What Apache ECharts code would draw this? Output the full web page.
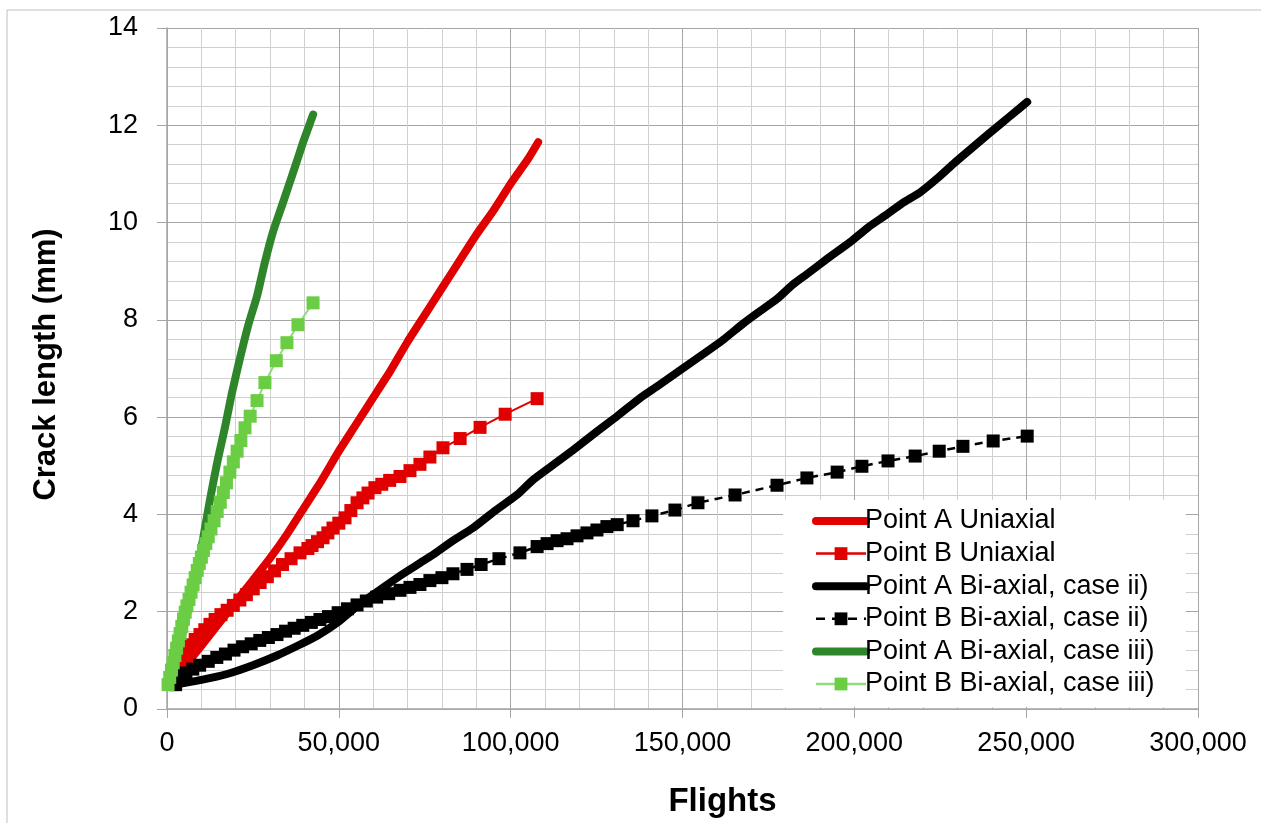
<!DOCTYPE html>
<html>
<head>
<meta charset="utf-8">
<script src="https://cdn.jsdelivr.net/npm/echarts@6.0.0/dist/echarts.min.js"></script>
<style>
  html, body { margin: 0; padding: 0; background: #fff; }
  #chart { width: 1261px; height: 823px; }
</style>
</head>
<body>
<div id="chart"></div>
<script>
// [flights, crack length mm]
const pointAUniaxial = [
  [2500, 0.55], [5000, 0.85], [10000, 1.3], [15000, 1.75], [20000, 2.2], [25000, 2.65],
  [30000, 3.1], [35000, 3.6], [40000, 4.15], [45000, 4.7], [50000, 5.3], [55000, 5.85],
  [60000, 6.4], [65000, 6.95], [70000, 7.55], [75000, 8.1], [80000, 8.65], [85000, 9.2],
  [90000, 9.75], [95000, 10.25], [100000, 10.8], [105000, 11.3], [108000, 11.65]
]
const pointBUniaxial = [
  [2500, 0.55], [3000, 0.7], [3800, 0.9], [4800, 1.05], [5800, 1.2], [7000, 1.32], [8200, 1.43],
  [9600, 1.53], [11000, 1.63], [12500, 1.74], [14000, 1.84], [15700, 1.94], [17500, 2.03],
  [19300, 2.13], [21200, 2.24], [23100, 2.35], [25100, 2.47], [27100, 2.6], [29200, 2.72],
  [31300, 2.84], [33600, 2.97], [36100, 3.09], [38700, 3.21], [41000, 3.3], [42200, 3.36],
  [43800, 3.44], [45400, 3.52], [46800, 3.62], [48300, 3.72], [50000, 3.82], [51800, 3.93],
  [53500, 4.08], [55300, 4.24], [57000, 4.34], [58500, 4.44], [60500, 4.55], [62500, 4.62],
  [64800, 4.7], [67800, 4.78], [70700, 4.9], [73600, 5.03], [76500, 5.18], [80300, 5.37],
  [85300, 5.56], [91100, 5.79], [98400, 6.06], [107700, 6.38]
]
const pointABiaxialII = [
  [2000, 0.5], [10000, 0.6], [17500, 0.72], [25000, 0.9], [32000, 1.1], [38000, 1.3],
  [43600, 1.5], [50000, 1.8], [56000, 2.15], [62000, 2.45], [67800, 2.74], [73600, 3.0],
  [77400, 3.17], [83000, 3.45], [89000, 3.72], [95000, 4.05], [101800, 4.4], [106500, 4.71],
  [112000, 5.0], [118100, 5.32], [125000, 5.7], [131000, 6.02], [137600, 6.39], [143000, 6.65],
  [149000, 6.95], [157100, 7.35], [162000, 7.6], [167600, 7.92], [172000, 8.15], [177500, 8.43],
  [182000, 8.72], [186200, 8.94], [192000, 9.25], [198800, 9.6], [204000, 9.9], [209500, 10.17],
  [214000, 10.4], [219100, 10.62], [224000, 10.9], [228700, 11.2], [234000, 11.52],
  [239500, 11.85], [245000, 12.17], [250300, 12.48]
]
const pointBBiaxialII = [
  [2500, 0.5], [3000, 0.6], [4000, 0.68], [5500, 0.74], [7500, 0.82], [9500, 0.9], [12000, 0.98],
  [14500, 1.06], [17000, 1.13], [19500, 1.21], [22000, 1.28], [24500, 1.34], [27000, 1.41],
  [29500, 1.47], [32000, 1.53], [34500, 1.6], [37000, 1.66], [39500, 1.72], [42000, 1.78],
  [44500, 1.84], [47000, 1.9], [49800, 1.98], [52500, 2.06], [55300, 2.14], [58000, 2.22],
  [61000, 2.3], [64500, 2.37], [67800, 2.44], [70700, 2.5], [73600, 2.56], [76500, 2.64],
  [80000, 2.7], [83200, 2.78], [87300, 2.87], [91400, 2.97], [96600, 3.09], [102700, 3.21],
  [107700, 3.34], [110600, 3.4], [113500, 3.46], [116400, 3.5], [119300, 3.56], [122200, 3.62],
  [125100, 3.68], [128000, 3.75], [131000, 3.79], [135600, 3.87], [141100, 3.97], [147800, 4.09],
  [154500, 4.24], [165300, 4.4], [177500, 4.6], [186200, 4.75], [195000, 4.87], [202200, 4.99],
  [209800, 5.1], [217700, 5.2], [224700, 5.3], [231600, 5.4], [240400, 5.51], [250300, 5.61]
]
const pointABiaxialIII = [
  [1000, 0.5], [3000, 1.1], [5000, 1.7], [7000, 2.3], [9000, 2.95], [10500, 3.5], [12500, 4.3],
  [14700, 5.1], [16900, 5.8], [18900, 6.5], [21200, 7.2], [23600, 7.88], [26200, 8.49],
  [28500, 9.19], [30800, 9.8], [33800, 10.42], [36700, 11.03], [39600, 11.65], [42500, 12.22]
]
const pointBBiaxialIII = [
  [300, 0.5], [800, 0.65], [1300, 0.8], [1800, 0.95], [2300, 1.1], [2800, 1.25], [3300, 1.4],
  [3800, 1.55], [4300, 1.7], [4800, 1.85], [5300, 1.99], [5800, 2.12], [6400, 2.25], [7000, 2.4],
  [7600, 2.55], [8200, 2.7], [8800, 2.85], [9400, 2.99], [10000, 3.12], [10600, 3.26],
  [11300, 3.4], [12000, 3.54], [12800, 3.7], [13700, 3.87], [14600, 4.06], [15500, 4.25],
  [16400, 4.45], [17300, 4.65], [18300, 4.87], [19300, 5.08], [20400, 5.3], [21500, 5.52],
  [22700, 5.78], [24200, 6.02], [26200, 6.34], [28500, 6.71], [31800, 7.16], [34900, 7.53],
  [38100, 7.9], [42500, 8.35]
]

const font = 'Liberation Sans, Arial, sans-serif'
const majorGrid = '#a6a6a6'
const minorGrid = '#d0d0d0'
const red = '#e00000'
const darkGreen = '#2f862a'
const lightGreen = '#6acd44'
const lightGreenLine = '#94d97e'

function thickLine(name, data, color) {
  return {
    name, type: 'line', data, symbol: 'none', smooth: 0.2,
    lineStyle: { color, width: 8, cap: 'round', join: 'round' },
    itemStyle: { color }
  }
}
function markerLine(name, data, color, lineColor, lineType, lineWidth) {
  return {
    name, type: 'line', data, symbol: 'rect', symbolSize: 13,
    lineStyle: { color: lineColor, width: lineWidth, type: lineType },
    itemStyle: { color }
  }
}
// legend entries: thick lines without a symbol, thin lines with a square
function thickKey(name, color) {
  return { name, itemStyle: { opacity: 0 }, lineStyle: { color, width: 8, cap: 'round' } }
}
function markerKey(name, color, lineColor, lineType) {
  return { name, itemStyle: { color }, lineStyle: { color: lineColor, width: 2.5, type: lineType } }
}

const chart = echarts.init(document.getElementById('chart'))
chart.setOption({
  animation: false,
  backgroundColor: '#fff',
  textStyle: { fontFamily: font },
  graphic: [{
    type: 'rect', z: -10, silent: true,
    shape: { x: 7, y: 10, width: 1300, height: 900 },
    style: { fill: 'none', stroke: '#bfbfbf', lineWidth: 1 }
  }],
  grid: { left: 167, right: 63, top: 28, bottom: 111 },
  legend: {
    orient: 'vertical', left: 783, top: 500,
    backgroundColor: '#fff',
    padding: [6, 31, 8, 29],
    itemWidth: 50, itemHeight: 16, itemGap: 2.6,
    textStyle: { fontSize: 27, color: '#000', fontFamily: font, lineHeight: 30, padding: [0, 0, 0, -6] },
    data: [
      thickKey('Point A Uniaxial', red),
      markerKey('Point B Uniaxial', red, red, 'solid'),
      thickKey('Point A Bi-axial, case ii)', '#000'),
      markerKey('Point B Bi-axial, case ii)', '#000', '#000', [9, 7]),
      thickKey('Point A Bi-axial, case iii)', darkGreen),
      markerKey('Point B Bi-axial, case iii)', lightGreen, lightGreenLine, 'solid')
    ]
  },
  xAxis: {
    type: 'value', min: 0, max: 300000, interval: 50000,
    name: 'Flights', nameLocation: 'middle', nameGap: 76,
    nameTextStyle: { fontSize: 33, fontWeight: 'bold', color: '#000', padding: [0, 0, 0, 80] },
    axisLine: { show: true, lineStyle: { color: majorGrid, width: 1.5 } },
    axisTick: { show: true, length: 9, lineStyle: { color: majorGrid } },
    axisLabel: {
      fontSize: 27, color: '#000', margin: 21,
      formatter: v => v.toLocaleString('en-US')
    },
    splitLine: { show: true, lineStyle: { color: majorGrid, width: 1 } },
    minorTick: { show: false, splitNumber: 5 },
    minorSplitLine: { show: true, lineStyle: { color: minorGrid, width: 1 } }
  },
  yAxis: {
    type: 'value', min: 0, max: 14, interval: 2,
    name: 'Crack length (mm)', nameLocation: 'middle', nameGap: 105,
    nameTextStyle: { fontSize: 31, fontWeight: 'bold', color: '#000', padding: [0, 0, 0, 8] },
    axisLine: { show: true, lineStyle: { color: majorGrid, width: 1.5 } },
    axisTick: { show: true, length: 10, lineStyle: { color: majorGrid } },
    axisLabel: { fontSize: 27, color: '#000', margin: 29 },
    splitLine: { show: true, lineStyle: { color: majorGrid, width: 1 } },
    minorTick: { show: false, splitNumber: 5 },
    minorSplitLine: { show: true, lineStyle: { color: minorGrid, width: 1 } }
  },
  series: [
    thickLine('Point A Uniaxial', pointAUniaxial, red),
    markerLine('Point B Uniaxial', pointBUniaxial, red, red, 'solid', 2),
    thickLine('Point A Bi-axial, case ii)', pointABiaxialII, '#000000'),
    markerLine('Point B Bi-axial, case ii)', pointBBiaxialII, '#000000', '#000000', [8, 6], 2.5),
    thickLine('Point A Bi-axial, case iii)', pointABiaxialIII, darkGreen),
    markerLine('Point B Bi-axial, case iii)', pointBBiaxialIII, lightGreen, lightGreenLine, 'solid', 2)
  ]
})
</script>
</body>
</html>
